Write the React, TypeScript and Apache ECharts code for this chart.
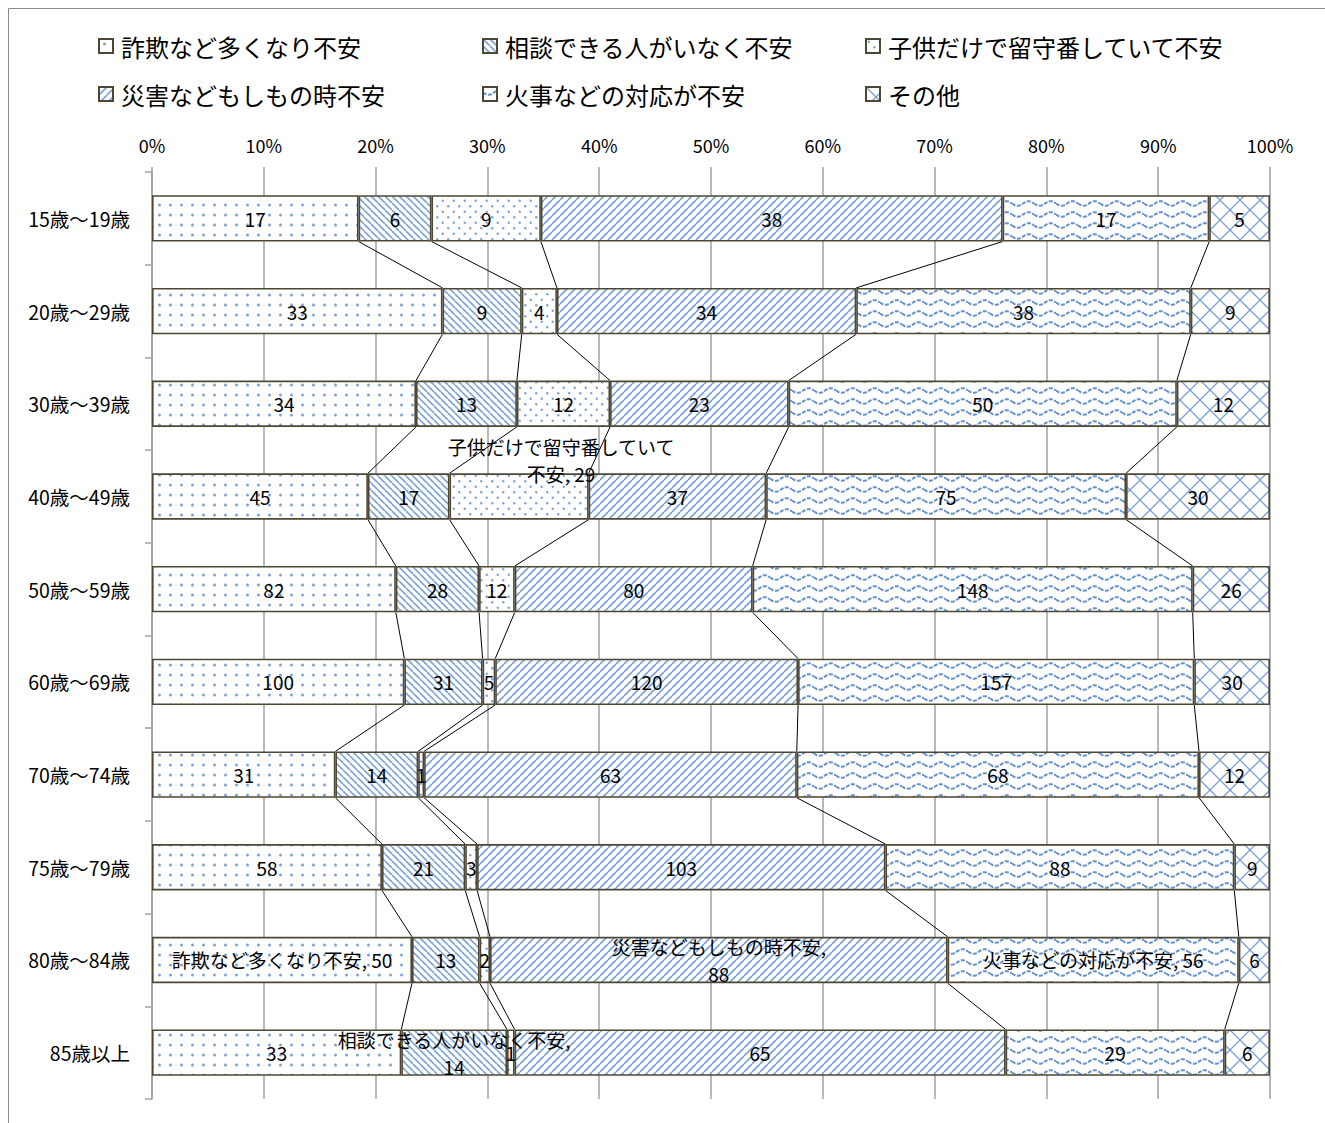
import React, { useEffect, useRef } from "react";
import * as echarts from "echarts";

const categories = [
  "15歳～19歳", "20歳～29歳", "30歳～39歳", "40歳～49歳", "50歳～59歳",
  "60歳～69歳", "70歳～74歳", "75歳～79歳", "80歳～84歳", "85歳以上",
];
const seriesNames = [
  "詐欺など多くなり不安", "相談できる人がいなく不安", "子供だけで留守番していて不安",
  "災害などもしもの時不安", "火事などの対応が不安", "その他",
];
const fraud = [17, 33, 34, 45, 82, 100, 31, 58, 50, 33];
const noConsult = [6, 9, 13, 17, 28, 31, 14, 21, 13, 14];
const childAlone = [9, 4, 12, 29, 12, 5, 1, 3, 2, 1];
const disaster = [38, 34, 23, 37, 80, 120, 63, 103, 88, 65];
const fire = [17, 38, 50, 75, 148, 157, 68, 88, 56, 29];
const other = [5, 9, 12, 30, 26, 30, 12, 9, 6, 6];
const xTickLabels = ["0%", "10%", "20%", "30%", "40%", "50%", "60%", "70%", "80%", "90%", "100%"];
// [series index, category index, label text]
const namedLabels: [number, number, string][] = [
  [2, 3, "子供だけで留守番していて\n不安, 29"],
  [0, 8, "詐欺など多くなり不安, 50"],
  [3, 8, "災害などもしもの時不安,\n88"],
  [4, 8, "火事などの対応が不安, 56"],
  [1, 9, "相談できる人がいなく不安,\n14"],
];

const allSeries = [fraud, noConsult, childAlone, disaster, fire, other];
const FONT = "'Noto Sans CJK JP', 'Noto Sans', sans-serif";
const BLUE = "rgba(74,126,198,0.72)";

function makePattern(kind: string) {
  const sizes: Record<string, [number, number]> = {
    dots: [11, 10], smalldots: [11, 11], back: [7, 7], fwd: [8, 8], wave: [22, 11], cross: [20, 20],
  };
  const [w, h] = sizes[kind];
  const c = document.createElement("canvas");
  c.width = w; c.height = h;
  const ctx = c.getContext("2d")!;
  ctx.fillStyle = "#fff";
  ctx.fillRect(0, 0, w, h);
  ctx.fillStyle = BLUE;
  ctx.strokeStyle = BLUE;
  if (kind === "dots") {
    ctx.beginPath(); ctx.arc(5.5, 5, 1.5, 0, Math.PI * 2); ctx.fill();
  } else if (kind === "smalldots") {
    ctx.beginPath(); ctx.arc(2.75, 2.75, 1.2, 0, Math.PI * 2); ctx.fill();
    ctx.beginPath(); ctx.arc(8.25, 8.25, 1.2, 0, Math.PI * 2); ctx.fill();
  } else if (kind === "back") {
    ctx.lineWidth = 1.6;
    for (const o of [-w, 0, w]) { ctx.beginPath(); ctx.moveTo(o, 0); ctx.lineTo(o + w, h); ctx.stroke(); }
  } else if (kind === "fwd") {
    ctx.lineWidth = 1.7;
    for (const o of [-w, 0, w]) { ctx.beginPath(); ctx.moveTo(o, h); ctx.lineTo(o + w, 0); ctx.stroke(); }
  } else if (kind === "wave") {
    ctx.strokeStyle = "rgba(74,126,198,0.85)";
    ctx.lineWidth = 2;
    ctx.setLineDash([4, 1.5]);
    ctx.beginPath();
    for (let x = 0; x <= w; x += 0.5) {
      const y = 5.5 + 2.3 * Math.sin((2 * Math.PI * x) / w);
      if (x === 0) ctx.moveTo(x, y); else ctx.lineTo(x, y);
    }
    ctx.stroke();
  } else if (kind === "cross") {
    ctx.lineWidth = 1.3;
    ctx.beginPath(); ctx.moveTo(0, 0); ctx.lineTo(w, h); ctx.stroke();
    ctx.beginPath(); ctx.moveTo(0, h); ctx.lineTo(w, 0); ctx.stroke();
  }
  return { image: c, repeat: "repeat", imageWidth: w, imageHeight: h } as any;
}

export default function App() {
  const ref = useRef<HTMLDivElement>(null);
  useEffect(() => {
    if (!ref.current) return;
    const chart = echarts.init(ref.current, undefined, { renderer: "svg" });
    const kinds = ["dots", "back", "smalldots", "fwd", "wave", "cross"];
    const totals = categories.map((_, i) => allSeries.reduce((s, arr) => s + arr[i], 0));
    const cum = categories.map((_, i) => {
      const r = [0];
      let acc = 0;
      allSeries.forEach((arr) => { acc += arr[i]; r.push((acc / totals[i]) * 100); });
      return r;
    });

    const legendPos: [number, number][] = [
      [98, 32], [482, 32], [865, 32], [98, 80], [482, 80], [865, 80],
    ];
    const legends = seriesNames.map((n, k) => ({
      data: [n],
      left: legendPos[k][0],
      top: legendPos[k][1],
      padding: 0,
      itemWidth: 14,
      itemHeight: 14,
      icon: "rect",
      itemStyle: { borderWidth: 2 },
      textStyle: { fontSize: 24, fontFamily: FONT, color: "#000", lineHeight: 28, padding: [0, 0, 0, 3] },
    }));

    const barSeries = seriesNames.map((n, k) => ({
      name: n,
      type: "bar",
      stack: "total",
      barCategoryGap: "50%",
      itemStyle: { color: makePattern(kinds[k]), borderColor: "#4d4733", borderWidth: 1.6 },
      label: {
        show: true,
        position: "inside",
        color: "#000",
        fontSize: 19,
        fontFamily: FONT,
        lineHeight: 27,
        formatter: (p: any) => String(allSeries[k][p.dataIndex]),
      },
      data: allSeries[k].map((v, i) => {
        const item: any = { value: (v / totals[i]) * 100 };
        const nl = namedLabels.find((d) => d[0] === k && d[1] === i);
        if (nl) {
          item.label = { formatter: nl[2] };
          if (k === 2 && i === 3) item.label.offset = [42, -36];
        }
        return item;
      }),
      z: 2,
    }));

    const lineSeries = {
      type: "custom",
      silent: true,
      z: 1,
      encode: { x: 0, y: 1 },
      data: categories.slice(0, -1).map((_, i) => [0, i]),
      renderItem: (params: any, api: any) => {
        const i = params.dataIndex;
        const bandH = api.size([0, 1])[1];
        const half = bandH * 0.25;
        const children: any[] = [];
        for (let k = 1; k < 6; k++) {
          const p1 = api.coord([cum[i][k], i]);
          const p2 = api.coord([cum[i + 1][k], i + 1]);
          children.push({
            type: "line",
            shape: { x1: p1[0], y1: p1[1] + half, x2: p2[0], y2: p2[1] - half },
            style: { stroke: "#000", lineWidth: 1 },
          });
        }
        return { type: "group", children };
      },
    };

    chart.setOption({
      animation: false,
      backgroundColor: "#fff",
      graphic: [
        {
          type: "rect",
          shape: { x: 8.5, y: 8.5, width: 1340, height: 1140 },
          style: { fill: "none", stroke: "#8c8c8c", lineWidth: 1 },
          silent: true,
        },
      ],
      legend: legends,
      grid: { left: 152, right: 55, top: 172, bottom: 24 },
      xAxis: {
        type: "value",
        position: "top",
        min: 0,
        max: 100,
        interval: 10,
        axisLine: { show: false },
        axisTick: { show: true, length: 5, lineStyle: { color: "#a0a0a0", width: 1.5 } },
        axisLabel: {
          margin: 18,
          fontSize: 18,
          fontFamily: FONT,
          color: "#000",
          formatter: (v: number) => xTickLabels[Math.round(v / 10)],
        },
        splitLine: { show: true, lineStyle: { color: "#a0a0a0", width: 1.5 } },
      },
      yAxis: {
        type: "category",
        inverse: true,
        data: categories,
        axisLine: { show: true, lineStyle: { color: "#a0a0a0", width: 1.5 } },
        axisTick: { show: true, length: 7, lineStyle: { color: "#a0a0a0", width: 1.5 } },
        axisLabel: { margin: 22, fontSize: 19.5, fontFamily: FONT, color: "#000" },
        splitLine: { show: false },
      },
      series: [...barSeries, lineSeries],
    });
    return () => chart.dispose();
  }, []);
  return (
    <div
      ref={ref}
      style={{ position: "absolute", left: 0, top: 0, width: 1325, height: 1123 }}
    />
  );
}
